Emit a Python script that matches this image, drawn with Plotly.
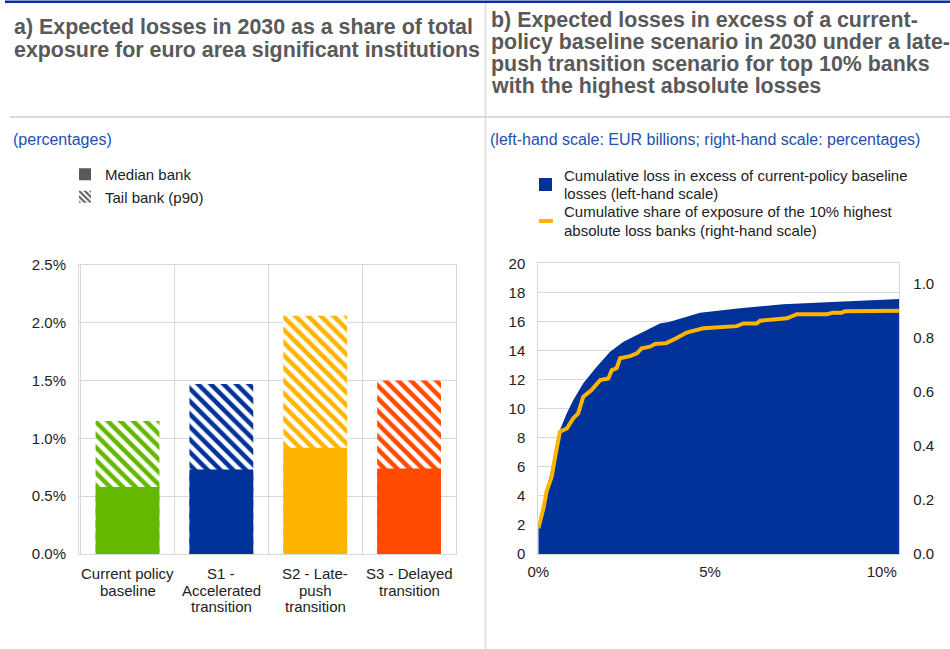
import plotly.graph_objects as go

# ---------------- data ----------------
# Panel a: expected losses in 2030 (% of total exposure)
scenarios = ["Current policy<br>baseline", "S1 -<br>Accelerated<br>transition",
             "S2 - Late-<br>push<br>transition", "S3 - Delayed<br>transition"]
median_bank = [0.58, 0.73, 0.92, 0.74]
tail_bank_p90 = [1.15, 1.47, 2.06, 1.50]
scenario_colors = ["#65B800", "#003299", "#FFB400", "#FF4B00"]

# Panel b: cumulative excess loss (EUR bn) against share of banks (%)
loss_share_of_banks = [0.0, 0.24, 0.44, 0.63, 0.83, 1.02, 1.31, 1.70, 2.09, 2.48,
                       2.87, 3.25, 3.54, 3.83, 4.71, 5.87, 7.13, 8.40, 9.37, 10.51]
cumulative_loss = [2.0, 4.4, 6.47, 8.53, 9.68, 10.6, 11.74, 12.89, 13.92, 14.61,
                   15.07, 15.53, 15.85, 15.98, 16.6, 16.9, 17.18, 17.32, 17.43, 17.55]

exposure_share_of_banks = [0.0, 0.15, 0.24, 0.39, 0.49, 0.63, 0.83, 1.02, 1.16, 1.31,
                           1.55, 1.80, 2.04, 2.14, 2.28, 2.38, 2.67, 2.87, 3.01, 3.25,
                           3.40, 3.73, 4.03, 4.32, 4.80, 5.78, 5.97, 6.36, 6.46, 7.24,
                           7.53, 8.40, 8.59, 8.83, 8.93, 9.56, 9.66, 10.51]
cumulative_exposure = [0.095, 0.169, 0.231, 0.286, 0.36, 0.453, 0.465, 0.503, 0.521, 0.583,
                       0.607, 0.644, 0.65, 0.681, 0.688, 0.725, 0.733, 0.743, 0.762, 0.768,
                       0.778, 0.781, 0.80, 0.82, 0.836, 0.844, 0.854, 0.854, 0.864, 0.873,
                       0.888, 0.888, 0.894, 0.894, 0.899, 0.899, 0.901, 0.901]

share_ticks = [0, 5, 10]
share_tick_labels = ["0%", "5%", "10%"]
exposure_ticks = [0, 0.2, 0.4, 0.6, 0.8, 1.0]

# ---------------- styling helpers ----------------
W, H = 950, 649
FONT = "Liberation Sans, Arial, sans-serif"
TXT = "#222222"
GRID = "#d9d9d9"
TITLE_GREY = "#595959"
SUB_BLUE = "#2150B0"
ECB_BLUE = "#003299"
ECB_YELLOW = "#FFB400"


def fx(p):
    return p / W


def fy(p):
    return 1 - p / H


fig = go.Figure()

# ---------------- panel a: bars ----------------
for cat, tail, col in zip(scenarios, tail_bank_p90, scenario_colors):
    fig.add_trace(go.Bar(
        x=[cat], y=[tail], xaxis="x", yaxis="y", showlegend=False,
        marker=dict(color="white", line=dict(width=0),
                    pattern=dict(shape="\\", fgcolor=col, bgcolor="white",
                                 size=9, solidity=0.5, fillmode="replace")),
        hoverinfo="skip"))
for cat, med, col in zip(scenarios, median_bank, scenario_colors):
    fig.add_trace(go.Bar(
        x=[cat], y=[med], xaxis="x", yaxis="y", showlegend=False,
        marker=dict(color=col, line=dict(width=0)), hoverinfo="skip"))

# legend keys for panel a
fig.add_trace(go.Bar(x=[None], y=[None], name="Median bank", xaxis="x", yaxis="y",
                     marker=dict(color="#595959", line=dict(width=0))))
fig.add_trace(go.Bar(x=[None], y=[None], name="Tail bank (p90)", xaxis="x", yaxis="y",
                     marker=dict(color="white", line=dict(width=0),
                                 pattern=dict(shape="\\", fgcolor="#595959", bgcolor="white",
                                              size=5, solidity=0.5, fillmode="replace"))))

# ---------------- panel b: area + line ----------------
fig.add_trace(go.Scatter(
    x=loss_share_of_banks, y=cumulative_loss, xaxis="x2", yaxis="y2",
    mode="lines", line=dict(width=0, color=ECB_BLUE), fill="tozeroy",
    fillcolor=ECB_BLUE, showlegend=False, hoverinfo="skip"))
fig.add_trace(go.Scatter(
    x=exposure_share_of_banks, y=cumulative_exposure, xaxis="x2", yaxis="y3",
    mode="lines", line=dict(width=4, color=ECB_YELLOW), showlegend=False,
    hoverinfo="skip"))

tick_font = dict(family=FONT, size=15, color=TXT)
dom_a_x = [fx(79), fx(456)]
dom_b_x = [fx(538.3), fx(899.3)]
dom_a_y = [fy(554), fy(265)]
dom_b_y = [fy(554), fy(263.3)]
share_grid = [3.593, 7.164]

fig.update_layout(
    width=W, height=H, margin=dict(l=0, r=0, t=0, b=0, autoexpand=False),
    paper_bgcolor="white", plot_bgcolor="white",
    font=dict(family=FONT, color=TXT),
    barmode="overlay", bargap=0.32,
    xaxis=dict(domain=dom_a_x, anchor="y", type="category", tickson="boundaries",
               showgrid=True, gridcolor=GRID, gridwidth=1, showticklabels=False,
               ticks="", showline=True, linecolor=GRID, linewidth=1, mirror=True,
               automargin=False),
    yaxis=dict(domain=dom_a_y, anchor="x", range=[0, 2.5], dtick=0.5,
               tickformat=".1f", ticksuffix="%", showgrid=True, gridcolor=GRID,
               zeroline=False, showline=True, linecolor=GRID, mirror=True,
               ticks="", tickfont=tick_font, ticklabelstandoff=9, automargin=False),
    xaxis2=dict(domain=dom_b_x, anchor="y2", range=[0, 10.51], tickvals=share_ticks,
                ticktext=share_tick_labels, showgrid=False, zeroline=False, ticks="",
                showline=True, linecolor=GRID, mirror=True, tickfont=tick_font,
                ticklabelstandoff=4, automargin=False),
    xaxis3=dict(overlaying="x2", anchor="y2", range=[0, 10.51], tickvals=share_grid,
                showticklabels=False, showgrid=True, gridcolor=GRID, ticks="",
                zeroline=False, showline=False, automargin=False),
    yaxis2=dict(domain=dom_b_y, anchor="x2", range=[0, 20], dtick=2,
                showgrid=True, gridcolor=GRID, zeroline=False, ticks="",
                showline=True, linecolor=GRID, mirror=True, tickfont=tick_font,
                ticklabelstandoff=9, automargin=False),
    yaxis3=dict(overlaying="y2", anchor="x2", side="right", range=[0, 1.0767],
                tickvals=exposure_ticks, tickformat=".1f",
                showgrid=False, zeroline=False, ticks="", tickfont=tick_font,
                ticklabelstandoff=13, automargin=False),
    legend=dict(x=fx(65), y=fy(158), xanchor="left", yanchor="top",
                font=dict(family=FONT, size=15, color=TXT), bgcolor="rgba(0,0,0,0)",
                itemsizing="constant", tracegroupgap=0),
    showlegend=True,
)

shapes = [
    # top rule
    dict(type="line", xref="paper", yref="paper", x0=fx(5), x1=1, y0=fy(1.7), y1=fy(1.7),
         line=dict(color=ECB_BLUE, width=2.5)),
    # rule under the titles
    dict(type="line", xref="paper", yref="paper", x0=fx(10), x1=1, y0=fy(117), y1=fy(117),
         line=dict(color=GRID, width=2)),
    # divider between the panels
    dict(type="line", xref="paper", yref="paper", x0=fx(485.5), x1=fx(485.5), y0=0, y1=fy(3),
         line=dict(color=GRID, width=1.5)),
    # panel b legend keys
    dict(type="rect", xref="paper", yref="paper", x0=fx(539), x1=fx(552), y0=fy(191), y1=fy(178),
         fillcolor=ECB_BLUE, line=dict(width=0)),
    dict(type="line", xref="paper", yref="paper", x0=fx(539), x1=fx(553), y0=fy(221), y1=fy(221),
         line=dict(color=ECB_YELLOW, width=4)),
]

annotations = []


def text(s, x, y, size, color, bold=False):
    annotations.append(dict(
        text=f"<b>{s}</b>" if bold else s, xref="paper", yref="paper",
        x=fx(x), y=fy(y), xanchor="left", yanchor="middle", showarrow=False,
        font=dict(family=FONT, size=size, color=color)))


title_a = ["a) Expected losses in 2030 as a share of total",
           "exposure for euro area significant institutions"]
title_b = ["b) Expected losses in excess of a current-",
           "policy baseline scenario in 2030 under a late-",
           "push transition scenario for top 10% banks",
           "with the highest absolute losses"]
for i, line in enumerate(title_a):
    text(line, 12, 26.7 + 23.3 * i, 21.4, TITLE_GREY, bold=True)
for i, line in enumerate(title_b):
    text(line, 489, 19.8 + 22.1 * i, 21.4, TITLE_GREY, bold=True)

text("(percentages)", 11, 140, 16, SUB_BLUE)
text("(left-hand scale: EUR billions; right-hand scale: percentages)", 488, 140, 16, SUB_BLUE)

legend_b = ["Cumulative loss in excess of current-policy baseline",
            "losses (left-hand scale)",
            "Cumulative share of exposure of the 10% highest",
            "absolute loss banks (right-hand scale)"]
for line, yc in zip(legend_b, [175, 193, 212, 230]):
    text(line, 562, yc, 15, TXT)

# category labels, one line at a time for tight line spacing
for cat in scenarios:
    for j, part in enumerate(cat.split("<br>")):
        annotations.append(dict(
            text=part, x=cat, xref="x", y=0, yref="y domain", xanchor="center",
            yanchor="middle", yshift=-(19.3 + 16.7 * j), showarrow=False,
            font=dict(family=FONT, size=15, color=TXT)))

fig.update_layout(shapes=shapes, annotations=annotations)

fig.write_html("out.html")
